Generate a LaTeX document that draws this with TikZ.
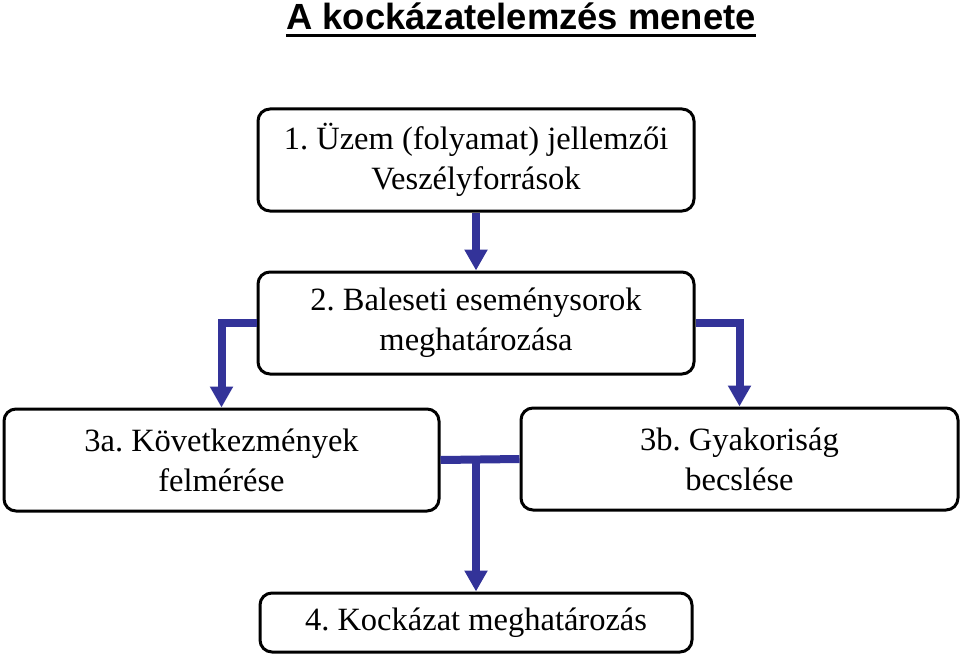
\documentclass[tikz,border=0pt]{standalone}
\usepackage{fontspec}
\setmainfont{Liberation Serif}
\newfontfamily\titlefont{Liberation Sans}
\usetikzlibrary{arrows.meta}
\definecolor{arrowblue}{RGB}{51,51,153}
\frenchspacing
\tikzset{
  stepbox/.style={draw=black, line width=3pt, rounded corners=12pt, align=center,
    inner sep=0pt, font=\fontsize{32.5}{40}\selectfont},
  flow/.style={draw=arrowblue, line width=8pt, -{Triangle[width=22pt,length=21pt]}},
  flowline/.style={draw=arrowblue, line width=8pt}
}
\begin{document}
\begin{tikzpicture}[x=1pt,y=-1pt]
\useasboundingbox (0,0) rectangle (960,655);
\node[inner sep=0pt, font=\titlefont\bfseries\fontsize{36.4}{40}\selectfont, anchor=base] (title) at (521,29.5) {A kockázatelemzés menete};
\draw[line width=3pt] ([yshift=-6pt]title.base west) -- ([yshift=-6pt]title.base east);

\node[stepbox, minimum width=436pt, minimum height=102pt] (b1) at (476,160) {1. Üzem (folyamat) jellemzői\\Veszélyforrások};
\node[stepbox, minimum width=436pt, minimum height=102pt] (b2) at (476,323) {2. Baleseti eseménysorok\\meghatározása};
\node[stepbox, minimum width=435pt, minimum height=102pt] (b3a) at (221.5,460) {3a. Következmények\\felmérése};
\node[stepbox, minimum width=437pt, minimum height=102pt] (b3b) at (739.5,459) {3b. Gyakoriság\\becslése};
\node[stepbox, minimum width=432pt, minimum height=59pt] (b4) at (476,622.5) {4. Kockázat meghatározás};

\draw[flow] (b1.south) -- (b2.north);
\draw[flow] (b2.west) -| (b3a.north);
\draw[flow] (b2.east) -| (b3b.north);
\coordinate (j) at (b4.north |- b3a.east);
\draw[flowline] (b3a.east) -- (b3b.west);
\draw[flow] (j) -- (b4.north);
\end{tikzpicture}
\end{document}
